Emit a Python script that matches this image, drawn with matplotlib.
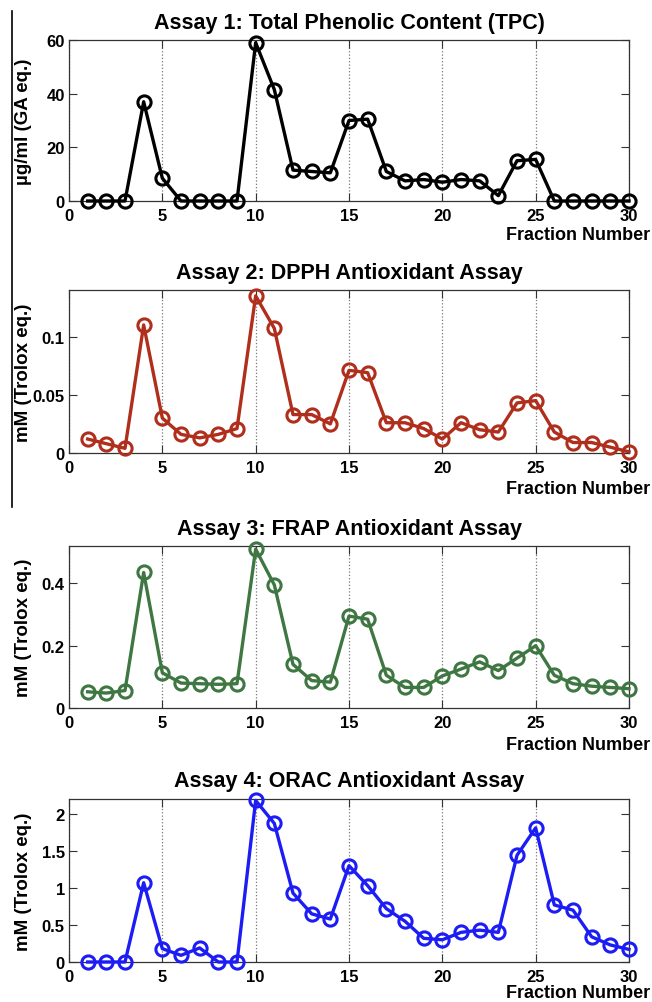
import numpy as np
import matplotlib
matplotlib.use("Agg")
import matplotlib.pyplot as plt
from matplotlib.lines import Line2D

plt.rcParams['font.family'] = ['Liberation Sans', 'DejaVu Sans']
plt.rcParams['font.weight'] = 'bold'

fractions = list(range(1, 31))

tpc = [0, 0, 0, 37, 8.5, 0, 0, 0, 0, 59, 41.5, 11.5, 11, 10.5, 30, 30.5, 11, 7.5, 8, 7,
       8, 7.5, 2, 15, 15.5, 0, 0, 0, 0, 0]
dpph = [0.012, 0.008, 0.004, 0.110, 0.030, 0.016, 0.013, 0.016, 0.021, 0.135, 0.107, 0.033,
        0.033, 0.025, 0.071, 0.069, 0.026, 0.026, 0.021, 0.012, 0.026, 0.020, 0.018, 0.043,
        0.045, 0.018, 0.009, 0.009, 0.005, 0.001]
frap = [0.052, 0.048, 0.056, 0.435, 0.113, 0.080, 0.078, 0.076, 0.078, 0.510, 0.395, 0.140,
        0.088, 0.083, 0.295, 0.285, 0.105, 0.066, 0.066, 0.103, 0.125, 0.148, 0.120, 0.160,
        0.200, 0.105, 0.078, 0.070, 0.066, 0.062]
orac = [0, 0, 0, 1.07, 0.18, 0.09, 0.19, 0, 0, 2.18, 1.87, 0.93, 0.65, 0.58, 1.30, 1.03,
        0.72, 0.55, 0.32, 0.30, 0.40, 0.43, 0.40, 1.44, 1.81, 0.77, 0.70, 0.34, 0.23, 0.17]

titles = ["Assay 1: Total Phenolic Content (TPC)",
          "Assay 2: DPPH Antioxidant Assay",
          "Assay 3: FRAP Antioxidant Assay",
          "Assay 4: ORAC Antioxidant Assay"]
ylabels = ["\u00b5g/ml (GA eq.)", "mM (Trolox eq.)", "mM (Trolox eq.)", "mM (Trolox eq.)"]
colors = ["#000000", "#b02e1c", "#3f7743", "#1c1cf5"]
ylims = [60, 0.14, 0.52, 2.2]
yticks = [[0, 20, 40, 60], [0, 0.05, 0.1], [0, 0.2, 0.4], [0, 0.5, 1, 1.5, 2]]
yticklabels = [["0", "20", "40", "60"], ["0", "0.05", "0.1"], ["0", "0.2", "0.4"],
               ["0", "0.5", "1", "1.5", "2"]]
series = [tpc, dpph, frap, orac]

W, H = 652, 1003
fig = plt.figure(figsize=(W / 100, H / 100), dpi=100)

# pixel boxes (top, bottom) of each panel
boxes = [(41, 202), (291, 454), (547, 709), (800, 963)]
xlab_y = [236, 489, 746, 994]
left_px, right_px = 69, 629

for i in range(4):
    top, bot = boxes[i]
    ax = fig.add_axes([left_px / W, 1 - bot / H, (right_px - left_px) / W, (bot - top) / H])
    ax.plot(fractions, series[i], color=colors[i], lw=2.4, marker='o', ms=9.5,
            mfc='none', mec=colors[i], mew=2.2, clip_on=False, zorder=3)
    ax.set_xlim(0, 30)
    ax.set_ylim(0, ylims[i])
    ax.set_xticks(range(0, 31, 5))
    ax.set_yticks(yticks[i])
    ax.set_yticklabels(yticklabels[i])
    ax.tick_params(direction='in', top=True, right=True, length=6, width=0.8,
                   labelsize=12, color='#333333')
    ax.tick_params(axis='x', pad=5)
    ax.tick_params(axis='y', pad=3)
    for lab in ax.get_xticklabels() + ax.get_yticklabels():
        lab.set_fontweight('bold')
    ax.xaxis.grid(True, linestyle=':', color='#777777', lw=0.9)
    for s in ax.spines.values():
        s.set_color('#333333')
        s.set_linewidth(0.9)
    ax.set_title(titles[i], fontsize=15.5, fontweight='bold', pad=9)
    ax.set_ylabel(ylabels[i], fontsize=13.5, fontweight='bold')
    ax.yaxis.set_label_coords(-0.066, 0.5)
    fig.text(650 / W, 1 - xlab_y[i] / H, "Fraction Number", ha='right', va='center',
             fontsize=13, fontweight='bold')

# scan edge line on the left
fig.add_artist(Line2D([11.5 / W, 11.5 / W], [1 - 12 / H, 1 - 508 / H], color='black', lw=1.2))

fig.savefig("out.png", dpi=100)
